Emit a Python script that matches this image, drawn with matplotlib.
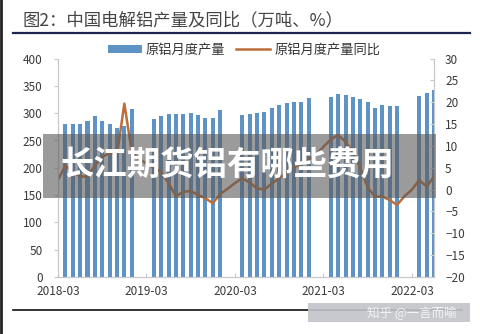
import matplotlib
matplotlib.use('Agg')
import matplotlib.pyplot as plt
from matplotlib.patches import Rectangle
from matplotlib.lines import Line2D
import numpy as np
import pandas as pd

plt.rcParams['font.family'] = ['Noto Sans CJK SC', 'DejaVu Sans']

# months on the category axis, 2018-02 .. 2022-05
months = pd.period_range('2018-02', '2022-05', freq='M').strftime('%Y-%m').tolist()

# 原铝月度产量 (万吨), no bar for Jan/Feb
output = [None,
          280, 280, 280, 286, 295, 286, 280, 273, 276, 307,
          None, None,
          289, 294, 298, 298, 298, 300, 296, 291, 292, 306,
          None, None,
          297, 298, 300, 303, 309, 315, 318, 320, 321, 327,
          None, None,
          330, 336, 333, 330, 326, 320, 309, 315, 313, 313,
          None, None,
          331, 337, 343]

# 原铝月度产量同比 (%)
yoy = [2.2,
       5.5, 4.0, 3.0, 3.0, 5.5, 7.5, 8.4, 8.0, 19.7, 8.7,
       7.0, 6.0, 5.0, 4.0, 1.5, -1.5, -0.5, -0.3, -1.2, -2.0, -3.1, -1.0,
       0.2, 1.5, 2.6, 1.6, 0.3, 0.0, 1.4, 2.6, 3.8, 5.2, 5.8, 6.7,
       8.0, 9.8, 11.5, 12.5, 11.0, 8.5, 5.0, 0.5, -1.6, -1.6, -2.4, -3.5,
       -1.5, 0.0, 2.2, 0.7, 3.0]

tick_labels = ['2018-03', '2019-03', '2020-03', '2021-03', '2022-03']

W, H = 481, 334
fig = plt.figure(figsize=(W / 100, H / 100), dpi=100)
ax = fig.add_axes([58 / W, 1 - 277 / H, (434 - 58) / W, (277 - 58.6) / H])
ax2 = ax.twinx()

x = np.arange(len(months))
ax.bar(x, np.array(output, dtype=float), width=0.55, color='#5f93c5', label='原铝月度产量')
ax2.plot(x, yoy, color='#bb6e38', lw=1.8, label='原铝月度产量同比')

ax.set_xlim(0, len(months) - 1)
ax.set_ylim(0, 400)
ax.set_yticks(range(0, 401, 50))
ax2.set_ylim(-20, 30)
ax2.set_yticks(range(-20, 31, 5))
ax.set_xticks([months.index(t) - 1 for t in tick_labels])
ax.set_xticklabels(tick_labels)

for a in (ax, ax2):
    for s in a.spines.values():
        s.set_color('#c8c8c8')
        s.set_linewidth(0.8)
    a.spines['top'].set_visible(False)
    a.tick_params(labelsize=8.5, colors='#c8c8c8', labelcolor='#3a3a3a', length=3, width=0.8)
ax.tick_params(axis='x', direction='in', pad=6)
ax.tick_params(axis='y', pad=8)
ax2.tick_params(axis='y', direction='in', pad=8)

h1, l1 = ax.get_legend_handles_labels()
h2, l2 = ax2.get_legend_handles_labels()
fig.legend(h1 + h2, l1 + l2, loc='center', bbox_to_anchor=(244 / W, 1 - 50 / H), ncol=2,
           frameon=False, fontsize=9.5, handlelength=2.6, handleheight=0.6, columnspacing=0.8,
           handletextpad=0.3, labelcolor='#333333')

# title and rules
fig.text(22 / W, 1 - 20 / H, '图2：中国电解铝产量及同比（万吨、%）', fontsize=12.5, color='#454545', va='center')
fig.add_artist(Line2D([13 / W, 470 / W], [1 - 33 / H] * 2, color='#1c2450', lw=1.6))
fig.add_artist(Line2D([13 / W, 462 / W], [1 - 310 / H] * 2, color='#111111', lw=1.2))
fig.add_artist(Line2D([1 / W, 1 / W], [0, 1], color='#222222', lw=2))

# overlay banner
fig.add_artist(Rectangle((43 / W, 1 - 198 / H), (436 - 43) / W, 64 / H, transform=fig.transFigure,
                         facecolor=(0.35, 0.35, 0.35), alpha=0.6, edgecolor='none', zorder=5))
fig.text(60 / W, 1 - 166 / H, '长江期货铝有哪些费用', fontsize=24, color='white', fontweight='heavy',
         va='center', ha='left', zorder=6)

# watermark
fig.add_artist(Rectangle((308 / W, 1 - 322 / H), 162 / W, 19 / H, transform=fig.transFigure,
                         facecolor='#c2c2ca', alpha=0.9, edgecolor='none', zorder=5))
fig.text(367 / W, 1 - 313 / H, '知乎 @一言而喻', fontsize=9, color='#f4f4f4', va='center', zorder=6)

plt.savefig('out.png', dpi=100)
